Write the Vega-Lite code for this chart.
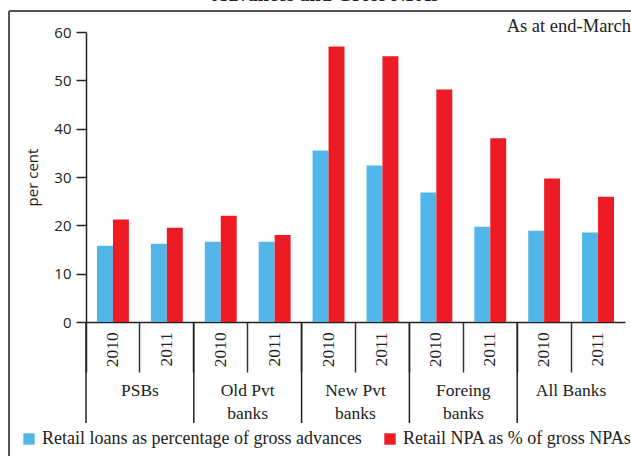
{
  "$schema": "https://vega.github.io/schema/vega-lite/v6.json",
  "width": 539,
  "height": 290,
  "autosize": {"type": "none"},
  "padding": {"left": 86, "top": 32, "right": 6, "bottom": 134},
  "background": "white",
  "title": {
    "text": "Advances and Gross NPAs",
    "font": "Liberation Serif",
    "fontSize": 20,
    "fontWeight": "bold",
    "color": "#222",
    "anchor": "middle",
    "offset": 5,
    "dx": -30
  },
  "config": {
    "view": {"stroke": null},
    "axis": {"grid": false}
  },
  "data": {
    "values": [
      {"key": "PSBs|2010", "group": "PSBs", "glabel": "PSBs", "year": "2010", "series": "Retail loans as percentage of gross advances", "value": 15.8},
      {"key": "PSBs|2010", "group": "PSBs", "glabel": "PSBs", "year": "2010", "series": "Retail NPA as % of gross NPAs", "value": 21.2},
      {"key": "PSBs|2011", "group": "PSBs", "glabel": "PSBs", "year": "2011", "series": "Retail loans as percentage of gross advances", "value": 16.2},
      {"key": "PSBs|2011", "group": "PSBs", "glabel": "PSBs", "year": "2011", "series": "Retail NPA as % of gross NPAs", "value": 19.5},
      {"key": "Old|2010", "group": "Old", "glabel": "Old Pvt\nbanks", "year": "2010", "series": "Retail loans as percentage of gross advances", "value": 16.6},
      {"key": "Old|2010", "group": "Old", "glabel": "Old Pvt\nbanks", "year": "2010", "series": "Retail NPA as % of gross NPAs", "value": 22.0},
      {"key": "Old|2011", "group": "Old", "glabel": "Old Pvt\nbanks", "year": "2011", "series": "Retail loans as percentage of gross advances", "value": 16.6},
      {"key": "Old|2011", "group": "Old", "glabel": "Old Pvt\nbanks", "year": "2011", "series": "Retail NPA as % of gross NPAs", "value": 18.0},
      {"key": "New|2010", "group": "New", "glabel": "New Pvt\nbanks", "year": "2010", "series": "Retail loans as percentage of gross advances", "value": 35.5},
      {"key": "New|2010", "group": "New", "glabel": "New Pvt\nbanks", "year": "2010", "series": "Retail NPA as % of gross NPAs", "value": 57.0},
      {"key": "New|2011", "group": "New", "glabel": "New Pvt\nbanks", "year": "2011", "series": "Retail loans as percentage of gross advances", "value": 32.4},
      {"key": "New|2011", "group": "New", "glabel": "New Pvt\nbanks", "year": "2011", "series": "Retail NPA as % of gross NPAs", "value": 55.0},
      {"key": "For|2010", "group": "For", "glabel": "Foreing\nbanks", "year": "2010", "series": "Retail loans as percentage of gross advances", "value": 26.8},
      {"key": "For|2010", "group": "For", "glabel": "Foreing\nbanks", "year": "2010", "series": "Retail NPA as % of gross NPAs", "value": 48.1},
      {"key": "For|2011", "group": "For", "glabel": "Foreing\nbanks", "year": "2011", "series": "Retail loans as percentage of gross advances", "value": 19.7},
      {"key": "For|2011", "group": "For", "glabel": "Foreing\nbanks", "year": "2011", "series": "Retail NPA as % of gross NPAs", "value": 38.0},
      {"key": "All|2010", "group": "All", "glabel": "All Banks", "year": "2010", "series": "Retail loans as percentage of gross advances", "value": 18.9},
      {"key": "All|2010", "group": "All", "glabel": "All Banks", "year": "2010", "series": "Retail NPA as % of gross NPAs", "value": 29.7},
      {"key": "All|2011", "group": "All", "glabel": "All Banks", "year": "2011", "series": "Retail loans as percentage of gross advances", "value": 18.5},
      {"key": "All|2011", "group": "All", "glabel": "All Banks", "year": "2011", "series": "Retail NPA as % of gross NPAs", "value": 25.9}
    ]
  },
  "resolve": {"scale": {"x": "independent"}},
  "layer": [
    {
      "layer": [
        {
          "mark": {"type": "bar"},
          "encoding": {
            "x": {
              "field": "key",
              "type": "nominal",
              "sort": null,
              "scale": {"paddingInner": 0, "paddingOuter": 0},
              "axis": {
                "title": null,
                "labels": false,
                "bandPosition": 0,
                "tickSize": 50,
                "tickColor": "#333",
                "tickWidth": 1.5,
                "domainColor": "#222",
                "domainWidth": 1.5
              }
            },
            "xOffset": {
              "field": "series",
              "type": "nominal",
              "scale": {
                "domain": ["Retail loans as percentage of gross advances", "Retail NPA as % of gross NPAs"],
                "paddingInner": 0,
                "paddingOuter": 0.69
              }
            },
            "y": {
              "field": "value",
              "type": "quantitative",
              "scale": {"domain": [0, 60], "nice": false},
              "axis": {
                "values": [0, 10, 20, 30, 40, 50, 60],
                "title": "per cent",
                "titleFont": "Open Sans",
                "titleFontSize": 15,
                "titleFontWeight": "normal",
                "titleColor": "#222",
                "titlePadding": 13,
                "labelFont": "Open Sans",
                "labelFontSize": 15,
                "labelColor": "#222",
                "labelPadding": 5,
                "tickSize": 10,
                "tickColor": "#222",
                "tickWidth": 1.5,
                "domainColor": "#222",
                "domainWidth": 1.5
              }
            },
            "color": {
              "field": "series",
              "type": "nominal",
              "scale": {
                "domain": ["Retail loans as percentage of gross advances", "Retail NPA as % of gross NPAs"],
                "range": ["#52b6e8", "#ed1c24"]
              },
              "legend": {
                "title": null,
                "orient": "none",
                "legendX": -66,
                "legendY": 398,
                "direction": "horizontal",
                "symbolType": "square",
                "symbolSize": 130,
                "symbolStrokeWidth": 0,
                "labelFont": "Liberation Serif",
                "labelFontSize": 18,
                "labelColor": "#222",
                "labelLimit": 400,
                "columnPadding": 19
              }
            }
          }
        },
        {
          "transform": [{"filter": "datum.series == 'Retail NPA as % of gross NPAs'"}],
          "mark": {"type": "text", "font": "Liberation Serif", "fontSize": 17.5, "color": "#222", "angle": -90, "align": "right", "baseline": "middle", "clip": false},
          "encoding": {
            "x": {"field": "key", "type": "nominal", "sort": null},
            "y": {"datum": -2.1, "type": "quantitative"},
            "text": {"field": "year"}
          }
        },
        {
          "transform": [{"filter": "datum.year == '2010' && datum.series == 'Retail NPA as % of gross NPAs'"}],
          "mark": {"type": "rule", "color": "#222", "strokeWidth": 1.5, "clip": false},
          "encoding": {
            "x": {"field": "key", "type": "nominal", "sort": null, "bandPosition": 0},
            "y": {"datum": 0, "type": "quantitative"},
            "y2": {"datum": -20.9}
          }
        },
        {
          "transform": [{"filter": "datum.year == '2011' && datum.series == 'Retail NPA as % of gross NPAs'"}],
          "mark": {"type": "text", "font": "Liberation Serif", "fontSize": 17.5, "color": "#222", "baseline": "middle", "align": "center", "lineBreak": "\n", "lineHeight": 23, "clip": false},
          "encoding": {
            "x": {"field": "key", "type": "nominal", "sort": null, "bandPosition": 0},
            "y": {"datum": -14.3, "type": "quantitative"},
            "text": {"field": "glabel"}
          }
        },
        {
          "transform": [{"filter": "datum.key == 'All|2011' && datum.series == 'Retail NPA as % of gross NPAs'"}],
          "mark": {"type": "text", "font": "Liberation Serif", "fontSize": 18.5, "color": "#222", "baseline": "middle", "align": "right", "dx": 6, "clip": false},
          "encoding": {
            "x": {"field": "key", "type": "nominal", "sort": null, "bandPosition": 1},
            "y": {"datum": 61.2, "type": "quantitative"},
            "text": {"value": "As at end-March"}
          }
        }
      ]
    },
    {
      "mark": {"type": "rule", "color": "#555", "strokeWidth": 1.5, "clip": false},
      "encoding": {
        "x": {"datum": -0.1428, "type": "quantitative", "scale": {"domain": [0, 1]}, "axis": null},
        "y": {"datum": 64.3, "type": "quantitative"},
        "y2": {"datum": -40}
      }
    },
    {
      "mark": {"type": "rule", "color": "#555", "strokeWidth": 1.5, "clip": false},
      "encoding": {
        "x": {"datum": -0.1428, "type": "quantitative", "scale": {"domain": [0, 1]}, "axis": null},
        "x2": {"datum": 1.2},
        "y": {"datum": 64.3, "type": "quantitative"}
      }
    }
  ]
}
